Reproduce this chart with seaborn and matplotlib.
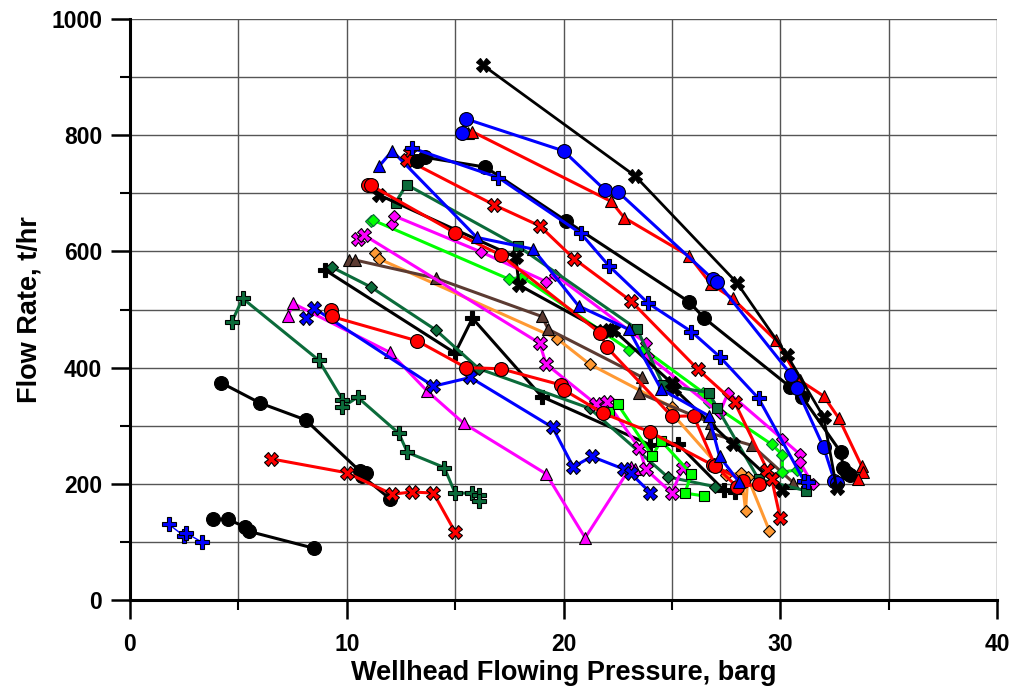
import matplotlib
matplotlib.use("Agg")
import matplotlib.pyplot as plt
import seaborn as sns
from matplotlib.ticker import MultipleLocator

sns.set_theme(style="white")
plt.rcParams['font.family'] = ['Liberation Sans', 'DejaVu Sans']
plt.rcParams['text.color'] = 'black'
plt.rcParams['axes.labelcolor'] = 'black'
plt.rcParams['xtick.color'] = 'black'
plt.rcParams['ytick.color'] = 'black'

# ---------------- data ----------------
s01_x = [16.3, 23.3, 28.0, 30.3, 32.0, 32.6]
s01_y = [920, 730, 546, 422, 315, 193]
s02_x = [15.3, 15.5, 20.0, 21.9, 22.5, 26.9, 27.1, 30.5, 30.75, 32.0, 32.5, 32.6]
s02_y = [803, 828, 773, 706, 703, 552, 547, 388, 365, 263, 205, 201]
s03_x = [15.6, 15.8, 22.2, 22.8, 25.8, 26.8, 27.8, 29.8, 30.9, 32.0, 32.7, 33.75, 33.8, 33.6]
s03_y = [804, 806, 686, 658, 592, 544, 519, 447, 378, 351, 313, 231, 220, 208]
s04_x = [13.0, 17.0, 20.8, 22.1, 23.9, 25.9, 27.2, 29.0, 31.1, 31.3]
s04_y = [778, 727, 631, 575, 511, 462, 419, 347, 205, 203]
s05_x = [13.25, 13.6, 16.4, 20.1, 25.8, 26.5, 30.45, 31.0, 32.8, 32.9, 33.1, 33.2]
s05_y = [755, 762, 745, 653, 513, 485, 367, 350, 254, 228, 218, 216]
s06_x = [12.9, 12.8, 16.8, 18.9, 20.5, 23.1, 26.2, 27.9, 29.4, 29.6, 30.0]
s06_y = [770, 757, 680, 644, 587, 515, 397, 340, 224, 209, 141]
s07_x = [11.5, 12.1, 16.0, 18.6, 20.7, 23.0, 24.5, 26.7, 27.2, 28.1]
s07_y = [747, 773, 624, 604, 506, 466, 363, 317, 247, 203]
s08_x = [11.0, 11.1, 15.0, 17.1, 21.7, 22.0, 25.0, 26.0, 27.0, 28.0, 29.0]
s08_y = [715, 714, 632, 594, 459, 435, 316, 317, 231, 195, 199]
s09_x = [9.26, 9.3, 13.25, 15.5, 17.1, 19.9, 20.0, 21.8, 24.0, 26.9, 28.3]
s09_y = [500, 488, 446, 400, 398, 370, 362, 322, 289, 232, 205]
s10_x = [12.25, 12.76, 17.9, 23.4, 24.6, 26.7, 27.1, 29.0, 31.2]
s10_y = [684, 715, 609, 466, 370, 357, 330, 208, 188]
s11_x = [11.5, 17.8, 17.95, 21.8, 22.1, 22.3, 25.0, 25.1, 27.8, 30.1]
s11_y = [697, 590, 542, 463, 465, 465, 373, 364, 268, 189]
s12_x = [12.1, 12.2, 16.2, 19.2, 19.6, 23.8, 23.9, 27.2, 27.6, 30.1, 30.9, 30.9, 31.5]
s12_y = [648, 661, 599, 548, 560, 442, 420, 322, 357, 277, 251, 238, 199]
s13_x = [11.1, 11.2, 17.5, 18.1, 23.0, 23.7, 26.45, 26.7, 29.6, 30.1, 30.1, 30.75]
s13_y = [652, 654, 552, 556, 431, 432, 357, 341, 268, 250, 220, 224]
s14_x = [10.5, 10.8, 18.9, 19.2, 21.5, 22.0, 23.5, 23.8, 25.0, 25.5]
s14_y = [621, 628, 442, 406, 337, 341, 261, 225, 184, 228]
s15_x = [10.1, 10.4, 14.1, 19.0, 19.3, 23.6, 23.5, 26.8, 26.8, 28.7, 30.6]
s15_y = [585, 585, 554, 488, 466, 384, 356, 305, 287, 266, 202]
s16_x = [11.3, 11.5, 19.7, 21.2, 25.0, 25.1, 27.5, 28.2, 28.4, 28.5, 29.5]
s16_y = [597, 587, 450, 406, 332, 317, 216, 218, 154, 211, 119]
s17_x = [9.3, 11.1, 14.1, 16.1, 21.2, 24.8, 27.0]
s17_y = [573, 539, 465, 398, 330, 212, 195]
s18_x = [9.0, 15.0, 15.8, 19.0, 24.0, 25.3, 27.4, 27.9]
s18_y = [568, 425, 485, 350, 267, 268, 189, 186]
s19_x = [22.1, 22.5, 24.1, 24.5, 25.9, 25.6, 26.5]
s19_y = [323, 337, 248, 274, 217, 184, 179]
s20_x = [8.1, 8.5, 14.0, 15.7, 19.5, 20.45, 21.3, 22.8, 23.1, 24.0]
s20_y = [486, 502, 368, 383, 297, 229, 247, 225, 218, 185]
s21_x = [7.3, 7.5, 12.0, 13.7, 15.4, 19.2, 21.0, 23.1, 23.3]
s21_y = [488, 511, 426, 360, 304, 217, 107, 229, 225]
s22_x = [4.7, 5.2, 8.7, 9.8, 9.8, 10.5, 12.4, 12.8, 14.5, 15.0, 15.8, 16.1, 16.1]
s22_y = [479, 519, 413, 345, 332, 349, 287, 254, 228, 184, 184, 180, 171]
s23_x = [4.2, 6.0, 8.1, 10.6, 10.9, 10.7, 12.0]
s23_y = [374, 339, 310, 222, 218, 214, 174]
s24_x = [3.85, 4.5, 5.3, 5.5, 8.5]
s24_y = [139, 139, 126, 118, 89]
s25_x = [1.8, 2.5, 2.6, 3.3]
s25_y = [130, 110, 115, 100]
s26_x = [6.5, 10.0, 12.1, 13.0, 14.0, 15.0]
s26_y = [243, 219, 182, 186, 184, 117]

# ---------------- styles ----------------
BLACK = "#000000"
BLUE = "#0000FF"
RED = "#FF0000"
DKGREEN = "#0B6B3A"
LIME = "#00FF00"
MAGENTA = "#FF00FF"
BROWN = "#5C3B32"
ORANGE = "#FF9933"

series = [
    (s22_x, s22_y, DKGREEN, "P", 9.5, 2.2),
    (s23_x, s23_y, BLACK, "o", 10, 2.2),
    (s24_x, s24_y, BLACK, "o", 10, 2.2),
    (s25_x, s25_y, BLUE, "P", 9.5, 1.0),
    (s26_x, s26_y, RED, "X", 10, 2.2),
    (s21_x, s21_y, MAGENTA, "^", 9, 2.2),
    (s20_x, s20_y, BLUE, "X", 10, 2.2),
    (s18_x, s18_y, BLACK, "P", 9.5, 2.2),
    (s17_x, s17_y, DKGREEN, "D", 6.5, 2.2),
    (s16_x, s16_y, ORANGE, "D", 6.5, 2.2),
    (s15_x, s15_y, BROWN, "^", 9, 2.2),
    (s14_x, s14_y, MAGENTA, "X", 10, 2.2),
    (s19_x, s19_y, LIME, "s", 7, 2.2),
    (s13_x, s13_y, LIME, "D", 6.5, 2.2),
    (s12_x, s12_y, MAGENTA, "D", 6.5, 2.2),
    (s09_x, s09_y, RED, "o", 10, 2.2),
    (s10_x, s10_y, DKGREEN, "s", 7, 2.2),
    (s11_x, s11_y, BLACK, "X", 10, 2.2),
    (s08_x, s08_y, RED, "o", 10, 2.2),
    (s07_x, s07_y, BLUE, "^", 9, 2.2),
    (s06_x, s06_y, RED, "X", 10, 2.2),
    (s05_x, s05_y, BLACK, "o", 10, 2.2),
    (s04_x, s04_y, BLUE, "P", 9.5, 2.2),
    (s03_x, s03_y, RED, "^", 9, 2.2),
    (s02_x, s02_y, BLUE, "o", 10, 2.2),
    (s01_x, s01_y, BLACK, "X", 10, 2.0),
]

fig = plt.figure(figsize=(10.14, 6.89), dpi=100)
ax = fig.add_axes([130 / 1014, 1 - 600 / 689, 867 / 1014, 581 / 689])

for xs, ys, col, mk, ms, lw in series:
    edge = DKGREEN if col == LIME and mk == "D" else "black"
    sns.lineplot(x=xs, y=ys, sort=False, estimator=None, color=col, linewidth=lw,
                 marker=mk, markersize=ms, markeredgecolor=edge, markeredgewidth=0.8,
                 markerfacecolor=col, ax=ax, legend=False, zorder=3)

ax.set_xlim(0, 40)
ax.set_ylim(0, 1000)
ax.xaxis.set_major_locator(MultipleLocator(10))
ax.xaxis.set_minor_locator(MultipleLocator(5))
ax.yaxis.set_major_locator(MultipleLocator(200))
ax.yaxis.set_minor_locator(MultipleLocator(100))
ax.grid(True, which="both", color="#555555", linewidth=1.0, zorder=0)
ax.set_axisbelow(True)

for side in ["top", "right"]:
    ax.spines[side].set_visible(False)
for side in ["left", "bottom"]:
    ax.spines[side].set_color("black")
    ax.spines[side].set_linewidth(2.2)
    ax.spines[side].set_zorder(5)

ax.tick_params(axis="both", which="major", direction="out", length=14, width=1.8,
               color="black", labelcolor="black", labelsize=16.5, left=True, bottom=True)
ax.tick_params(axis="x", which="major", pad=10)
ax.tick_params(axis="y", which="major", pad=6)
ax.tick_params(axis="both", which="minor", direction="out", length=7, width=1.5,
               color="black", left=True, bottom=True)
for lab in ax.get_xticklabels() + ax.get_yticklabels():
    lab.set_fontweight("bold")

ax.set_xlabel("Wellhead Flowing Pressure, barg", fontsize=19.5, fontweight="bold",
              labelpad=3, color="black")
ax.set_ylabel("Flow Rate, t/hr", fontsize=19.5, fontweight="bold", labelpad=6, color="black")

fig.savefig("out.png", dpi=100)
